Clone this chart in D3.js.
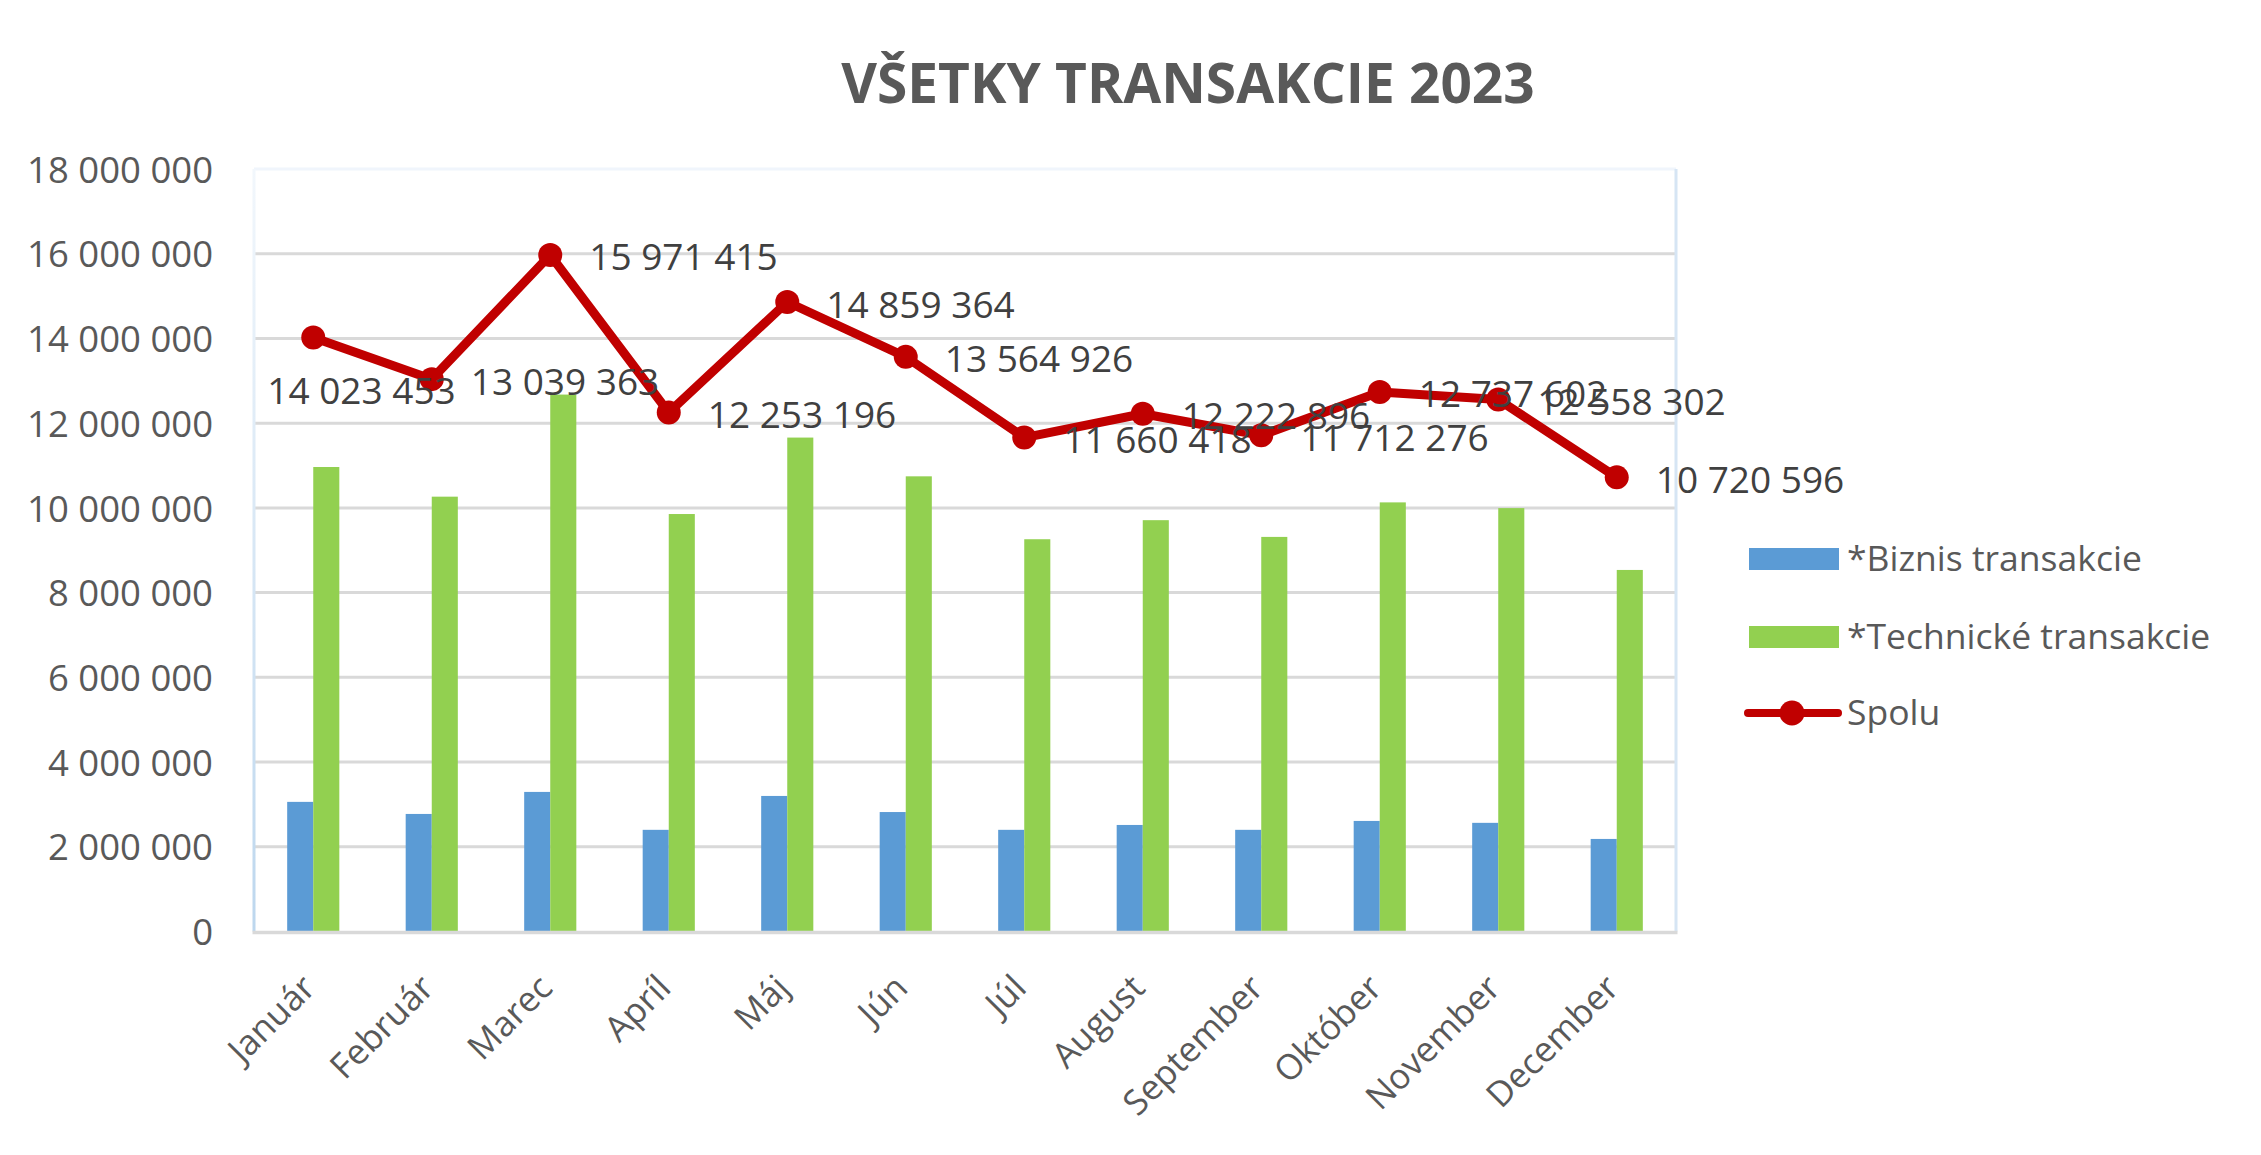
<!DOCTYPE html>
<html>
<head>
<meta charset="utf-8">
<script src="https://cdn.jsdelivr.net/npm/d3@7"></script>
<style>
  html, body { margin: 0; padding: 0; background: #ffffff; }
  svg { display: block; }
</style>
</head>
<body>
<div id="chart"></div>
<script>
// ---------------- DATA ----------------
const title = "VŠETKY TRANSAKCIE 2023";
const categories = ["Január", "Február", "Marec", "Apríl", "Máj", "Jún", "Júl", "August", "September", "Október", "November", "December"];
const seriesNames = ["*Biznis transakcie", "*Technické transakcie", "Spolu"];
const biznis = [3060000, 2775000, 3295000, 2400000, 3200000, 2820000, 2400000, 2515000, 2400000, 2610000, 2565000, 2185000];
const technicke = [10965000, 10265000, 12675000, 9855000, 11660000, 10745000, 9260000, 9710000, 9315000, 10130000, 9995000, 8535000];
const spolu = [14023453, 13039363, 15971415, 12253196, 14859364, 13564926, 11660418, 12222896, 11712276, 12737602, 12558302, 10720596];
const yTicks = [0, 2000000, 4000000, 6000000, 8000000, 10000000, 12000000, 14000000, 16000000, 18000000];

// ---------------- LAYOUT / STYLE ----------------
const W = 2261, H = 1155;
const plot = { left: 254, right: 1676, top: 169, bottom: 931.5 };
const colors = { biznis: "#5B9BD5", technicke: "#92D050", spolu: "#C00000", text: "#595959", label: "#404040", grid: "#D9D9D9" };
const font = "'Open Sans', 'Noto Sans', sans-serif";

const fmt = v => d3.format(",")(v).replace(/,/g, " ");

const svg = d3.select("#chart").append("svg").attr("width", W).attr("height", H)
  .style("background", "#fff");

const x = d3.scaleBand().domain(categories).range([plot.left, plot.right]);
const y = d3.scaleLinear().domain([0, 18000000]).range([plot.bottom, plot.top]);
const barW = x.bandwidth() * 0.22;
const cx = c => x(c) + x.bandwidth() / 2;

// defs: gradient for left frame edge
const defs = svg.append("defs");
const lg = defs.append("linearGradient").attr("id", "leftEdge").attr("x1", 0).attr("y1", 0).attr("x2", 0).attr("y2", 1);
lg.append("stop").attr("offset", "0%").attr("stop-color", "#F2F7FC");
lg.append("stop").attr("offset", "100%").attr("stop-color", "#BDD7EE");

// Title
svg.append("text").attr("x", 1188).attr("y", 103)
  .attr("text-anchor", "middle")
  .attr("font-family", font).attr("font-weight", 700).attr("font-size", 55)
  .attr("fill", colors.text).text(title);

// Gridlines
svg.append("g").selectAll("line").data(yTicks.filter(t => t > 0 && t < 18000000)).join("line")
  .attr("x1", plot.left).attr("x2", plot.right)
  .attr("y1", d => y(d)).attr("y2", d => y(d))
  .attr("stroke", colors.grid).attr("stroke-width", 3);

// Plot frame
svg.append("line").attr("x1", plot.left).attr("x2", plot.right).attr("y1", y(18000000)).attr("y2", y(18000000))
  .attr("stroke", "#F0F5FC").attr("stroke-width", 3);
svg.append("rect").attr("x", plot.right - 1.5).attr("y", plot.top).attr("width", 3).attr("height", plot.bottom - plot.top)
  .attr("fill", "#D6E5F4");
svg.append("rect").attr("x", plot.left - 1.5).attr("y", plot.top).attr("width", 3).attr("height", plot.bottom - plot.top)
  .attr("fill", "url(#leftEdge)");

// Y axis labels
const yAxis = d3.axisLeft(y).tickValues(yTicks).tickFormat(fmt).tickSize(0).tickPadding(0);
const yg = svg.append("g").attr("transform", `translate(213,0)`).call(yAxis);
yg.select(".domain").remove();
yg.selectAll("text").attr("font-family", font).attr("font-size", 36.5).attr("fill", colors.text)
  .attr("dy", "0.36em");

// Bars
const bars = svg.append("g");
bars.selectAll("rect.b").data(categories).join("rect").attr("class", "b")
  .attr("x", c => cx(c) - barW).attr("width", barW)
  .attr("y", (c, i) => y(biznis[i])).attr("height", (c, i) => y(0) - y(biznis[i]))
  .attr("fill", colors.biznis);
bars.selectAll("rect.t").data(categories).join("rect").attr("class", "t")
  .attr("x", c => cx(c)).attr("width", barW)
  .attr("y", (c, i) => y(technicke[i])).attr("height", (c, i) => y(0) - y(technicke[i]))
  .attr("fill", colors.technicke);

// X axis line
svg.append("line").attr("x1", plot.left - 1.5).attr("x2", plot.right + 1.5).attr("y1", plot.bottom + 1).attr("y2", plot.bottom + 1)
  .attr("stroke", colors.grid).attr("stroke-width", 3.5);

// X axis labels
const xAxis = d3.axisBottom(x).tickSize(0).tickPadding(0);
const xg = svg.append("g").attr("transform", `translate(0,0)`).call(xAxis);
xg.select(".domain").remove();
xg.selectAll(".tick").attr("transform", c => `translate(${cx(c) + 4},990)`);
xg.selectAll("text").attr("font-family", font).attr("font-size", 35).attr("fill", colors.text)
  .attr("text-anchor", "end").attr("y", 0).attr("dy", 0).attr("transform", "rotate(-45)");

// Line
const line = d3.line().x((d, i) => cx(categories[i])).y(d => y(d));
svg.append("path").datum(spolu).attr("d", line)
  .attr("fill", "none").attr("stroke", colors.spolu).attr("stroke-width", 9)
  .attr("stroke-linejoin", "round").attr("stroke-linecap", "round");
svg.append("g").selectAll("circle").data(spolu).join("circle")
  .attr("cx", (d, i) => cx(categories[i])).attr("cy", d => y(d)).attr("r", 12)
  .attr("fill", colors.spolu);

// Data labels (Excel placement: right, January moved below)
const labelPlacement = c => c === "Január" ? "below" : "right";
svg.append("g").selectAll("text").data(spolu).join("text")
  .attr("x", (d, i) => labelPlacement(categories[i]) === "below" ? cx(categories[i]) - 46 : cx(categories[i]) + 39)
  .attr("y", (d, i) => (labelPlacement(categories[i]) === "below" ? y(d) + 54 : y(d) + 3) + 12.5)
  .attr("font-family", font).attr("font-size", 37).attr("fill", colors.label)
  .text(d => fmt(d));

// Legend
const lgd = svg.append("g");
const legendRows = [
  { name: seriesNames[0], type: "bar", color: colors.biznis, yc: 559 },
  { name: seriesNames[1], type: "bar", color: colors.technicke, yc: 637 },
  { name: seriesNames[2], type: "line", color: colors.spolu, yc: 713 }
];
legendRows.forEach(r => {
  if (r.type === "bar") {
    lgd.append("rect").attr("x", 1749).attr("y", r.yc - 11).attr("width", 90).attr("height", 22).attr("fill", r.color);
  } else {
    lgd.append("line").attr("x1", 1748).attr("x2", 1838).attr("y1", r.yc).attr("y2", r.yc)
      .attr("stroke", r.color).attr("stroke-width", 8).attr("stroke-linecap", "round");
    lgd.append("circle").attr("cx", 1792).attr("cy", r.yc).attr("r", 12.5).attr("fill", r.color);
  }
  lgd.append("text").attr("x", 1847).attr("y", r.yc + 12)
    .attr("font-family", font).attr("font-size", 35.5).attr("fill", colors.text).text(r.name);
});
</script>
</body>
</html>
